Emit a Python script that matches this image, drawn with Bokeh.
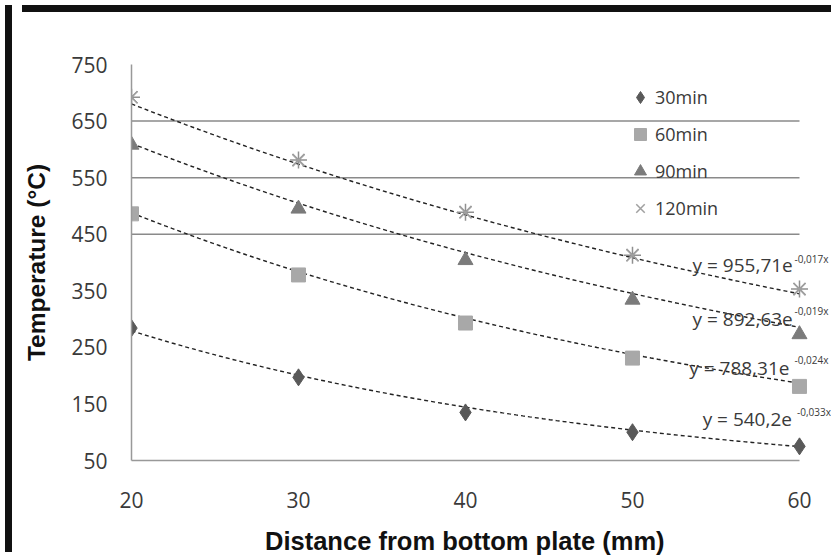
import numpy as np
from bokeh.plotting import figure
from bokeh.layouts import row, column
from bokeh.models import FixedTicker, Legend, LegendItem, Label, Range1d, Div
from bokeh.embed import file_html
from bokeh.resources import INLINE

# ---- data ----
distance = [20, 30, 40, 50, 60]
t30 = [284, 197, 135, 100, 75]
t60 = [486, 378, 293, 231, 181]
t90 = [608, 495, 404, 334, 273]
t120 = [692, 581, 489, 413, 353]

series_names = ["30min", "60min", "90min", "120min"]

# exponential trend lines  y = a * exp(b * x)
fit_a = [540.2, 788.31, 892.63, 955.71]
fit_b = [-0.033, -0.024, -0.019, -0.017]
fit_text = ["y = 540,2e", "y = 788,31e", "y = 892,63e", "y = 955,71e"]
fit_exp = ["-0,033x", "-0,024x", "-0,019x", "-0,017x"]

x_ticks = [20, 30, 40, 50, 60]
y_ticks = [50, 150, 250, 350, 450, 550, 650, 750]
grid_lines = [450, 550, 650]

x_title = "Distance from bottom plate (mm)"
y_title = "Temperature (°C)"

TEXT_FONT = "Open Sans"
TITLE_FONT = "Liberation Sans"
TEXT_COLOR = "#3a3a3a"

x_lo, x_hi = x_ticks[0], x_ticks[-1]
# frame runs to the canvas edge so that the equation texts can reach it
x_view_end = x_hi + 2.036

p = figure(width=816, height=540, output_backend="svg", toolbar_location=None,
           x_range=Range1d(x_lo, x_view_end), y_range=Range1d(y_ticks[0], y_ticks[-1]),
           min_border_left=114, min_border_right=0, min_border_top=47, min_border_bottom=97)
p.outline_line_color = None
p.background_fill_color = "white"
p.border_fill_color = "white"

# axes
for ax in (p.xaxis[0], p.yaxis[0]):
    ax.axis_line_color = "#999999"
    ax.axis_line_width = 1.5
    ax.major_tick_line_color = None
    ax.minor_tick_line_color = None
    ax.major_tick_out = 0
    ax.major_tick_in = 0
    ax.major_label_text_font = TEXT_FONT
    ax.major_label_text_font_size = "21px"
    ax.major_label_text_color = TEXT_COLOR
    ax.axis_label_text_font = TITLE_FONT
    ax.axis_label_text_font_style = "bold"
    ax.axis_label_text_color = "#111111"

p.xaxis.bounds = (x_lo, x_hi)
p.xaxis.ticker = FixedTicker(ticks=x_ticks)
p.yaxis.ticker = FixedTicker(ticks=y_ticks)
p.yaxis.axis_label = y_title
p.yaxis.axis_label_text_font_size = "24.5px"
p.yaxis.major_label_standoff = 24
p.yaxis.axis_label_standoff = 18

# x title: trailing no-break spaces move it under the drawn axis (frame is wider)
p.xaxis.axis_label = x_title + "\u00a0" * 5
p.xaxis.axis_label_text_font_size = "25.5px"
p.xaxis.major_label_standoff = 31
p.xaxis.axis_label_standoff = 16

p.xgrid.grid_line_color = None
p.ygrid.grid_line_color = None

# horizontal grid lines, limited to the data extent
p.segment(x0=[x_lo] * len(grid_lines), x1=[x_hi] * len(grid_lines), y0=grid_lines, y1=grid_lines,
          line_color="#8a8a8a", line_width=1.5)

# trend lines
xs = np.linspace(x_lo, x_hi, 100)
for a, b in zip(fit_a, fit_b):
    p.line(xs, a * np.exp(b * xs), line_color="#222222", line_width=1.4, line_dash="4 3")

# scatter series
r30 = p.scatter(distance, t30, marker="diamond", size=17, fill_color="#595959", line_color="#595959")
r60 = p.scatter(distance, t60, marker="square", size=14, fill_color="#a8a8a8", line_color="#a8a8a8")
r90 = p.scatter(distance, t90, marker="triangle", size=15, fill_color="#7b7b7b", line_color="#7b7b7b")
p.scatter(distance, t120, marker="asterisk", size=17, line_color="#909090", line_width=1.5)
r120 = p.scatter(distance, t120, marker="x", size=17, line_color="#a0a0a0", line_width=1.5)

legend = Legend(items=[LegendItem(label=n, renderers=[r]) for n, r in
                       zip(series_names, [r30, r60, r90, r120])],
                location=(494, 237), padding=0, margin=0, spacing=7,
                glyph_width=30, glyph_height=30, label_height=30, label_standoff=0,
                border_line_color=None, background_fill_alpha=0,
                label_text_font=TEXT_FONT, label_text_font_size="18px",
                label_text_color=TEXT_COLOR)
p.add_layout(legend)

# equation labels: (text x, text y, exponent x, exponent y) in data units
eq_pos = [(54.2, 122.5, 59.85, 135), (53.4, 214, 59.7, 227),
          (53.6, 299.3, 59.7, 313.4), (53.6, 394.7, 59.7, 407)]
for (tx, ty, sx, sy), t, e in zip(eq_pos, fit_text, fit_exp):
    p.add_layout(Label(x=tx, y=ty, text=t, text_font=TEXT_FONT, text_font_size="19px",
                       text_color=TEXT_COLOR, text_baseline="middle", text_align="left"))
    p.add_layout(Label(x=sx, y=sy, text=e, text_font=TEXT_FONT, text_font_size="10px",
                       text_color=TEXT_COLOR, text_baseline="middle", text_align="left"))

# thick black frame of the original picture (left and top edges)
left_bar = Div(width=7, height=547, styles={"background-color": "#111111"})
top_bar = Div(width=816, height=7, styles={"background-color": "#111111"})
layout = row(left_bar, column(top_bar, p, spacing=0), spacing=0)

open("out.html", "w").write(file_html(layout, INLINE))
